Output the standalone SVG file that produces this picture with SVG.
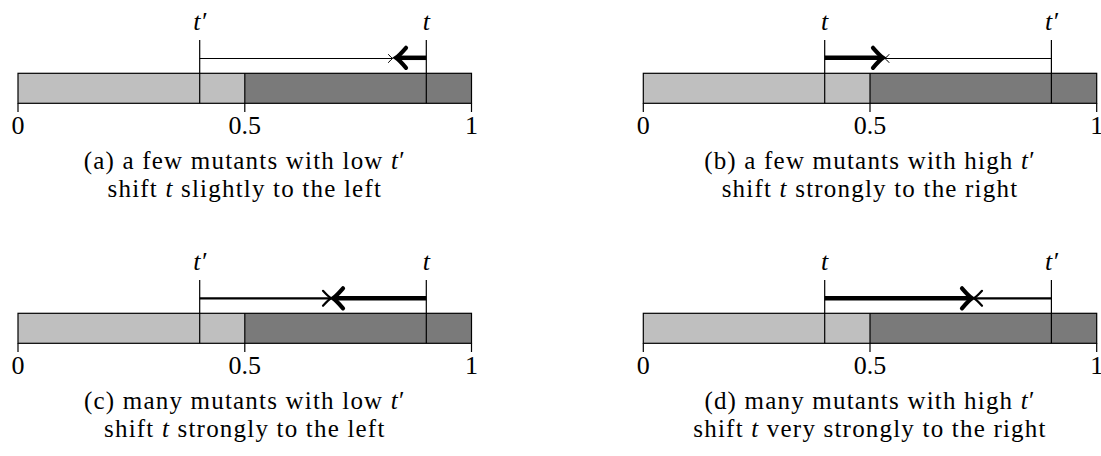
<svg xmlns="http://www.w3.org/2000/svg" width="1101" height="456" viewBox="0 0 1101 456">
<style>
text{font-family:"Liberation Serif","Times New Roman",serif;font-size:26px;fill:#000;text-anchor:middle}
.cap{font-size:25px;letter-spacing:1.2px}
.lab{font-size:26px}
.i{font-style:italic}
.light{fill:#bfbfbf}
.dark{fill:#7a7a7a}
.edge{fill:none;stroke:#000;stroke-width:1.2}
.thin{fill:none;stroke:#000;stroke-width:1}
.med{fill:none;stroke:#000;stroke-width:2.2}
.thick{fill:none;stroke:#000;stroke-width:4.5}
</style>
<defs>
<marker id="hThin" markerUnits="userSpaceOnUse" orient="auto" overflow="visible" refX="0" refY="0" markerWidth="1" markerHeight="1">
<path d="M-4,-4 Q-1.2,-0.8 0,0 Q-1.2,0.8 -4,4" fill="none" stroke="#000" stroke-width="1" stroke-linecap="round"/>
</marker>
<marker id="hMed" markerUnits="userSpaceOnUse" orient="auto" overflow="visible" refX="0" refY="0" markerWidth="1" markerHeight="1">
<path d="M-8,-7.5 Q-2.5,-1.5 0,0 Q-2.5,1.5 -8,7.5" fill="none" stroke="#000" stroke-width="2.2" stroke-linecap="round"/>
</marker>
<marker id="hThick" markerUnits="userSpaceOnUse" orient="auto" overflow="visible" refX="0" refY="0" markerWidth="1" markerHeight="1">
<path d="M-10,-10 Q-3,-2 0,0 Q-3,2 -10,10" fill="none" stroke="#000" stroke-width="4.2" stroke-linecap="round"/>
</marker>
</defs>

<g id="panel-a">
<rect class="light" x="18" y="73.3" width="226.8" height="30"/>
<rect class="dark" x="244.8" y="73.3" width="226.7" height="30"/>
<rect class="edge" x="18" y="73.3" width="453.5" height="30"/>
<line class="edge" x1="244.8" y1="73.3" x2="244.8" y2="112"/>
<line class="edge" x1="18" y1="103.3" x2="18" y2="112"/>
<line class="edge" x1="471.5" y1="103.3" x2="471.5" y2="112"/>
<line class="edge" x1="199.7" y1="40" x2="199.7" y2="103.3"/>
<line class="edge" x1="426.3" y1="40" x2="426.3" y2="103.3"/>
<text class="i lab" x="199.7" y="30">t′</text>
<text class="i lab" x="426.3" y="30">t</text>
<text x="18" y="134">0</text>
<text x="244.8" y="134">0.5</text>
<text x="471.5" y="134">1</text>
<text class="cap" x="244.8" y="168.5">(a) a few mutants with low <tspan class="i">t</tspan>′</text>
<text class="cap" x="244.8" y="196.5">shift <tspan class="i">t</tspan> slightly to the left</text>
</g>

<g id="panel-b">
<rect class="light" x="643.3" y="73.3" width="226.7" height="30"/>
<rect class="dark" x="870" y="73.3" width="226.7" height="30"/>
<rect class="edge" x="643.3" y="73.3" width="453.4" height="30"/>
<line class="edge" x1="870" y1="73.3" x2="870" y2="112"/>
<line class="edge" x1="643.3" y1="103.3" x2="643.3" y2="112"/>
<line class="edge" x1="1096.7" y1="103.3" x2="1096.7" y2="112"/>
<line class="edge" x1="824.7" y1="40" x2="824.7" y2="103.3"/>
<line class="edge" x1="1051.4" y1="40" x2="1051.4" y2="103.3"/>
<text class="i lab" x="824.7" y="30">t</text>
<text class="i lab" x="1051.4" y="30">t′</text>
<text x="643.3" y="134">0</text>
<text x="870" y="134">0.5</text>
<text x="1096.7" y="134">1</text>
<text class="cap" x="870" y="168.5">(b) a few mutants with high <tspan class="i">t</tspan>′</text>
<text class="cap" x="870" y="196.5">shift <tspan class="i">t</tspan> strongly to the right</text>
</g>

<g id="panel-c">
<rect class="light" x="18" y="313.3" width="226.8" height="30"/>
<rect class="dark" x="244.8" y="313.3" width="226.7" height="30"/>
<rect class="edge" x="18" y="313.3" width="453.5" height="30"/>
<line class="edge" x1="244.8" y1="313.3" x2="244.8" y2="352"/>
<line class="edge" x1="18" y1="343.3" x2="18" y2="352"/>
<line class="edge" x1="471.5" y1="343.3" x2="471.5" y2="352"/>
<line class="edge" x1="199.7" y1="280" x2="199.7" y2="343.3"/>
<line class="edge" x1="426.3" y1="280" x2="426.3" y2="343.3"/>
<text class="i lab" x="199.7" y="270">t′</text>
<text class="i lab" x="426.3" y="270">t</text>
<text x="18" y="374">0</text>
<text x="244.8" y="374">0.5</text>
<text x="471.5" y="374">1</text>
<text class="cap" x="244.8" y="408.5">(c) many mutants with low <tspan class="i">t</tspan>′</text>
<text class="cap" x="244.8" y="436.5">shift <tspan class="i">t</tspan> strongly to the left</text>
</g>

<g id="panel-d">
<rect class="light" x="643.3" y="313.3" width="226.7" height="30"/>
<rect class="dark" x="870" y="313.3" width="226.7" height="30"/>
<rect class="edge" x="643.3" y="313.3" width="453.4" height="30"/>
<line class="edge" x1="870" y1="313.3" x2="870" y2="352"/>
<line class="edge" x1="643.3" y1="343.3" x2="643.3" y2="352"/>
<line class="edge" x1="1096.7" y1="343.3" x2="1096.7" y2="352"/>
<line class="edge" x1="824.7" y1="280" x2="824.7" y2="343.3"/>
<line class="edge" x1="1051.4" y1="280" x2="1051.4" y2="343.3"/>
<text class="i lab" x="824.7" y="270">t</text>
<text class="i lab" x="1051.4" y="270">t′</text>
<text x="643.3" y="374">0</text>
<text x="870" y="374">0.5</text>
<text x="1096.7" y="374">1</text>
<text class="cap" x="870" y="408.5">(d) many mutants with high <tspan class="i">t</tspan>′</text>
<text class="cap" x="870" y="436.5">shift <tspan class="i">t</tspan> very strongly to the right</text>
</g>

<g id="connectors">
<line class="thin" x1="199.7" y1="58.5" x2="392.5" y2="58.5" marker-end="url(#hThin)"/>
<line class="thick" x1="426.3" y1="57.8" x2="396" y2="57.8" marker-end="url(#hThick)"/>
<line class="thick" x1="824.7" y1="57.8" x2="883" y2="57.8" marker-end="url(#hThick)"/>
<line class="thin" x1="1051.4" y1="58.5" x2="885" y2="58.5" marker-end="url(#hThin)"/>
<line class="med" x1="199.7" y1="298.3" x2="331" y2="298.3" marker-end="url(#hMed)"/>
<line class="thick" x1="426.3" y1="298.3" x2="333" y2="298.3" marker-end="url(#hThick)"/>
<line class="thick" x1="824.7" y1="298.3" x2="972" y2="298.3" marker-end="url(#hThick)"/>
<line class="med" x1="1051.4" y1="298.3" x2="974" y2="298.3" marker-end="url(#hMed)"/>
</g>
</svg>
